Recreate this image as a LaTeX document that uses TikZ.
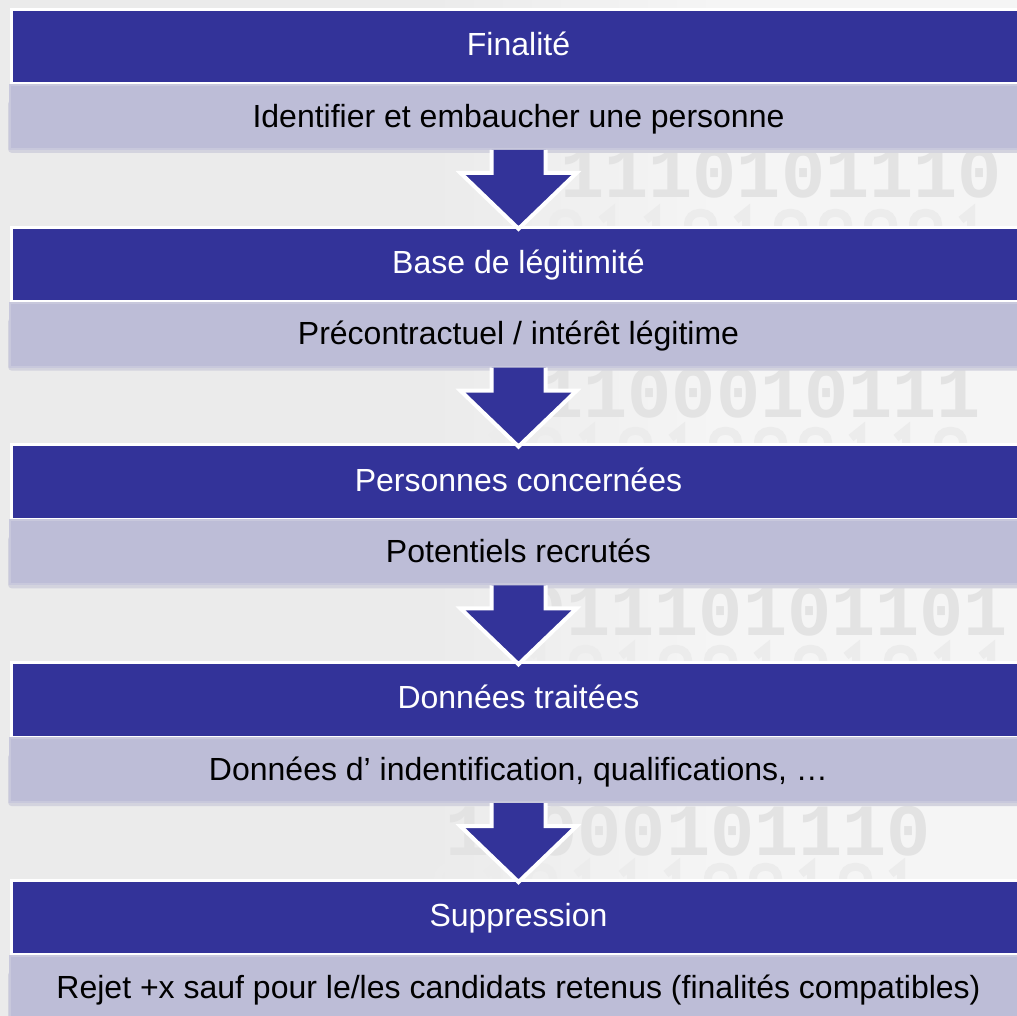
\documentclass[tikz,border=0pt]{standalone}
\usepackage{fontspec}
\setmainfont{Liberation Sans}
\newfontfamily\wmfont{Liberation Mono}
\usetikzlibrary{calc}
\definecolor{dblue}{HTML}{333399}
\definecolor{lbox}{HTML}{BDBDD7}
\definecolor{lboxedge}{HTML}{C8C8DC}
\definecolor{shadowc}{HTML}{D3D3DE}
\definecolor{bg}{HTML}{EBEBEB}
\definecolor{panel}{HTML}{F5F5F5}
\definecolor{wm}{HTML}{E3E3E3}
\definecolor{wmfaint}{HTML}{ECECEC}
\newcommand\FlowArrow[2]{%
  \fill[dblue] ($(#1.south)+(-27,0)$) -- ($(#1.south)+(-27,-23)$) -- ($(#1.south)+(-58,-23)$)
    -- ($(#2.north)+(0,-3)$) -- ($(#1.south)+(58,-23)$) -- ($(#1.south)+(27,-23)$) -- ($(#1.south)+(27,0)$) -- cycle;
  \draw[white, line width=4pt, line join=miter] ($(#1.south)+(-27,0)$) -- ($(#1.south)+(-27,-23)$) -- ($(#1.south)+(-58,-23)$)
    -- ($(#2.north)+(0,-3)$) -- ($(#1.south)+(58,-23)$) -- ($(#1.south)+(27,-23)$) -- ($(#1.south)+(27,0)$);
}
% faint watermark row drawn as shapes: x start, top (image px from top), colour, digits
\newcommand\WMRow[4]{%
  \foreach \dg [count=\ii from 0] in {#4} {
    \pgfmathsetmacro\xo{#1+45*\ii}
    \pgfmathsetmacro\yt{1016-#2}
    \ifnum\dg=0
      \draw[#3, line width=8pt, rounded corners=11pt] (\xo+8,\yt-5) rectangle (\xo+33,\yt-45);
    \else
      \draw[#3, line width=8pt, line join=miter] (\xo+11,\yt-12) -- (\xo+21,\yt-4) -- (\xo+21,\yt-45);
      \draw[#3, line width=6pt] (\xo+9,\yt-46) -- (\xo+33,\yt-46);
    \fi
  }%
}
\begin{document}
\begin{tikzpicture}[x=1pt,y=1pt,
  titlebox/.style={rectangle, fill=dblue, draw=white, line width=3pt,
    minimum width=1014pt, minimum height=74.5pt, inner sep=0pt, text=white,
    font=\fontsize{32}{38}\selectfont, text height=23pt, text depth=5pt},
  detailbox/.style={rectangle, fill=lbox, draw=lboxedge, line width=2pt,
    minimum width=1017pt, minimum height=64pt, inner sep=0pt, text=black,
    font=\fontsize{32}{38}\selectfont, text height=23pt, text depth=2.5pt},
  wmrow/.style={anchor=base west, inner sep=0pt, text=wm,
    font=\wmfont\bfseries\fontsize{64}{64}\selectfont}]
\useasboundingbox (0,0) rectangle (1017,1016);
% background
\fill[bg] (0,0) rectangle (1017,1016);
\fill[left color=bg, right color=panel] (430,0) rectangle (720,1016);
\fill[panel] (720,0) rectangle (1017,1016);
% watermark: main rows (text) and faint rows (shapes)
\node[wmrow] (wm1) at (560,818) {\scalebox{1.15}[1.15]{1110101110}};
\node[wmrow] (wm2) at (495,598) {\scalebox{1.15}[1.15]{01100010111}};
\node[wmrow] (wm3) at (522,380) {\scalebox{1.15}[1.15]{01110101101}};
\node[wmrow] (wm4) at (445,160) {\scalebox{1.15}[1.15]{11000101110}};
\WMRow{545}{208}{wmfaint}{0,1,1,0,1,0,0,0,0,1}
\WMRow{480}{426}{wmfaint}{1,0,1,0,1,0,0,0,1,1,0}
\WMRow{520}{644}{wmfaint}{1,0,1,0,0,1,0,1,0,1,1}
\WMRow{430}{862}{wmfaint}{0,1,0,1,1,1,0,0,1,0,1}
% title boxes
\node[titlebox] (t1) at (518.5,969.25) {Finalité};
\node[titlebox] (t2) at (518.5,751.5) {Base de légitimité};
\node[titlebox] (t3) at (518.5,533.75) {Personnes concernées};
\node[titlebox] (t4) at (518.5,316) {Données traitées};
\node[titlebox] (t5) at (518.5,98.25) {Suppression};
% shadows under detail boxes
\foreach \k in {0,1,2,3,4}{
  \fill[shadowc, rounded corners=4pt] (8,{1016-153-217.75*\k}) rectangle (1030,{1016-100-217.75*\k});
}
% detail boxes
\node[detailbox] (d1) at (518.5,899) {Identifier et embaucher une personne};
\node[detailbox] (d2) at (518.5,681.25) {Précontractuel / intérêt légitime};
\node[detailbox] (d3) at (518.5,463.5) {Potentiels recrutés};
\node[detailbox] (d4) at (518.5,245.75) {Données d’ indentification, qualifications, …};
\node[detailbox] (d5) at (518.5,28) {Rejet +x sauf pour le/les candidats retenus (finalités compatibles)};
% arrows
\FlowArrow{d1}{t2}
\FlowArrow{d2}{t3}
\FlowArrow{d3}{t4}
\FlowArrow{d4}{t5}
\end{tikzpicture}
\end{document}
